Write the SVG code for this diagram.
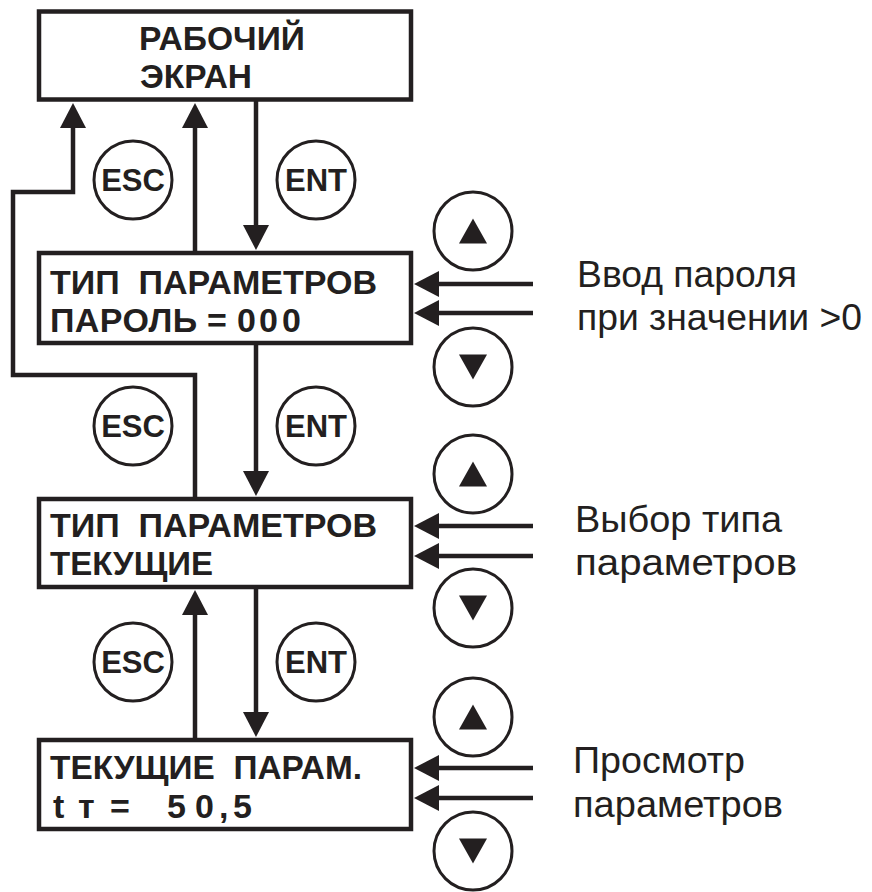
<svg xmlns="http://www.w3.org/2000/svg" width="872" height="892" viewBox="0 0 872 892">
<defs>
<style>
.box{fill:#fff;stroke:#231f20;stroke-width:4.5}
.bt{font-family:"Liberation Sans",Arial,sans-serif;font-weight:bold;font-size:34px;fill:#231f20;white-space:pre}
.key{fill:#fff;stroke:#231f20;stroke-width:3}
.kt{font-family:"Liberation Sans",Arial,sans-serif;font-weight:bold;font-size:31px;fill:#231f20;text-anchor:middle}
.tri{fill:#231f20}
.lbl{font-family:"Liberation Sans",Arial,sans-serif;font-size:37.5px;fill:#231f20}
.con{fill:none;stroke:#231f20;stroke-width:4.5;stroke-linejoin:miter}
</style>
<marker id="ah" viewBox="0 0 25 26" refX="1" refY="13" markerWidth="25" markerHeight="26" markerUnits="userSpaceOnUse" orient="auto" overflow="visible">
<path d="M0,0 L25,13 L0,26 z" fill="#231f20"/>
</marker>
</defs>
<rect width="872" height="892" fill="#fff"/>

<g id="connectors">
<path class="con" d="M195,499 V375 H13 V192 H73 V127" marker-end="url(#ah)"/>
<path class="con" d="M195,253 V127" marker-end="url(#ah)"/>
<path class="con" d="M256,100 V226" marker-end="url(#ah)"/>
<path class="con" d="M256,343 V472" marker-end="url(#ah)"/>
<path class="con" d="M195,740 V614" marker-end="url(#ah)"/>
<path class="con" d="M256,587 V713" marker-end="url(#ah)"/>
<path class="con" d="M533,284 H438" marker-end="url(#ah)"/>
<path class="con" d="M533,313 H438" marker-end="url(#ah)"/>
<path class="con" d="M533,526 H438" marker-end="url(#ah)"/>
<path class="con" d="M533,556 H438" marker-end="url(#ah)"/>
<path class="con" d="M533,768 H438" marker-end="url(#ah)"/>
<path class="con" d="M533,798 H438" marker-end="url(#ah)"/>
</g>

<g id="work-screen">
<rect class="box" x="39" y="11.5" width="372" height="88"/>
<text class="bt" x="139" y="50" textLength="166" lengthAdjust="spacingAndGlyphs">РАБОЧИЙ</text>
<text class="bt" x="140" y="88" textLength="112" lengthAdjust="spacingAndGlyphs">ЭКРАН</text>
</g>

<g id="param-type-password">
<rect class="box" x="39" y="253" width="372" height="90"/>
<text class="bt" x="50" y="294" textLength="327" lengthAdjust="spacingAndGlyphs">ТИП  ПАРАМЕТРОВ</text>
<text class="bt" y="332"><tspan x="50" letter-spacing="0.4">ПАРОЛЬ</tspan> <tspan x="207">=</tspan> <tspan x="237">0</tspan><tspan x="259">0</tspan><tspan x="282">0</tspan></text>
</g>

<g id="param-type-current">
<rect class="box" x="39" y="499" width="372" height="88"/>
<text class="bt" x="50" y="537" textLength="327" lengthAdjust="spacingAndGlyphs">ТИП  ПАРАМЕТРОВ</text>
<text class="bt" x="50" y="575" textLength="163" lengthAdjust="spacingAndGlyphs">ТЕКУЩИЕ</text>
</g>

<g id="current-params">
<rect class="box" x="39" y="740" width="372" height="89"/>
<text class="bt" x="50" y="779" textLength="312" lengthAdjust="spacingAndGlyphs">ТЕКУЩИЕ  ПАРАМ.</text>
<text class="bt" x="53 78 100 110 140 167 195 219 233" y="818">tт = 50,5</text>
</g>

<g id="keys-esc-ent">
<circle class="key" cx="133" cy="180" r="39"/><text class="kt" x="133" y="191">ESC</text>
<circle class="key" cx="316" cy="180" r="39"/><text class="kt" x="316" y="191">ENT</text>
<circle class="key" cx="133" cy="426" r="39"/><text class="kt" x="133" y="437">ESC</text>
<circle class="key" cx="316" cy="426" r="39"/><text class="kt" x="316" y="437">ENT</text>
<circle class="key" cx="133" cy="662" r="39"/><text class="kt" x="133" y="673">ESC</text>
<circle class="key" cx="316" cy="662" r="39"/><text class="kt" x="316" y="673">ENT</text>
</g>

<g id="keys-up-down">
<circle class="key" cx="473" cy="231" r="39"/><path class="tri" d="M459,243.5 L487,243.5 L473,218.5 z"/>
<circle class="key" cx="473" cy="367" r="39"/><path class="tri" d="M459,354.5 L487,354.5 L473,379.5 z"/>
<circle class="key" cx="473" cy="474" r="39"/><path class="tri" d="M459,486.5 L487,486.5 L473,461.5 z"/>
<circle class="key" cx="473" cy="608" r="39"/><path class="tri" d="M459,595.5 L487,595.5 L473,620.5 z"/>
<circle class="key" cx="473" cy="717" r="39"/><path class="tri" d="M459,729.5 L487,729.5 L473,704.5 z"/>
<circle class="key" cx="473" cy="851" r="39"/><path class="tri" d="M459,838.5 L487,838.5 L473,863.5 z"/>
</g>

<g id="labels">
<text class="lbl" x="577" y="287" textLength="220" lengthAdjust="spacingAndGlyphs">Ввод пароля</text>
<text class="lbl" x="577" y="330" textLength="285" lengthAdjust="spacingAndGlyphs">при значении &gt;0</text>
<text class="lbl" x="575" y="532" textLength="207" lengthAdjust="spacingAndGlyphs">Выбор типа</text>
<text class="lbl" x="575" y="575" textLength="222" lengthAdjust="spacingAndGlyphs">параметров</text>
<text class="lbl" x="573" y="773" textLength="172" lengthAdjust="spacingAndGlyphs">Просмотр</text>
<text class="lbl" x="573" y="817" textLength="210" lengthAdjust="spacingAndGlyphs">параметров</text>
</g>
</svg>
